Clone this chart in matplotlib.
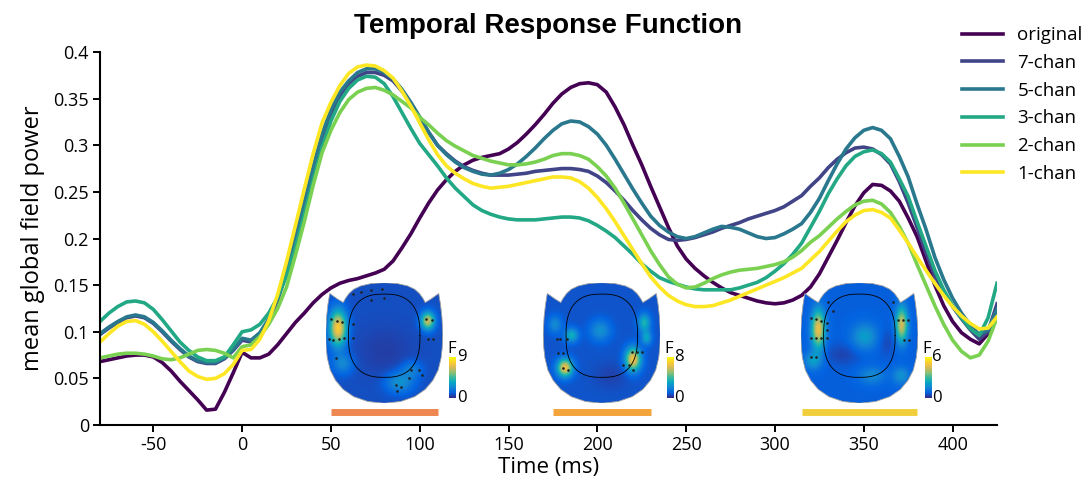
import numpy as np
import matplotlib.pyplot as plt
from matplotlib.colors import LinearSegmentedColormap
from matplotlib.path import Path
from matplotlib.patches import PathPatch
from matplotlib.ticker import FuncFormatter

plt.rcParams['font.family'] = ['Open Sans', 'DejaVu Sans']
plt.rcParams['axes.unicode_minus'] = False

# ---- TRF mean global field power, one curve per vocoder condition ----
time_ms = np.arange(-80, 426, 5)

original = [
    0.068, 0.070, 0.072, 0.074, 0.075, 0.075, 0.073, 0.067, 0.058, 0.047,
    0.037, 0.027, 0.016, 0.017, 0.035, 0.056, 0.078, 0.072, 0.072, 0.076,
    0.086, 0.098, 0.110, 0.120, 0.131, 0.140, 0.147, 0.152, 0.155, 0.157,
    0.160, 0.163, 0.167, 0.176, 0.190, 0.205, 0.222, 0.238, 0.252, 0.263,
    0.272, 0.279, 0.284, 0.287, 0.289, 0.291, 0.296, 0.303, 0.312, 0.322,
    0.333, 0.345, 0.355, 0.362, 0.366, 0.367, 0.365, 0.357, 0.341, 0.322,
    0.300, 0.279, 0.256, 0.234, 0.212, 0.192, 0.178, 0.168, 0.160, 0.153,
    0.147, 0.142, 0.139, 0.136, 0.133, 0.131, 0.130, 0.131, 0.134, 0.139,
    0.148, 0.162, 0.180, 0.198, 0.217, 0.235, 0.249, 0.258, 0.257, 0.251,
    0.240, 0.222, 0.202, 0.176, 0.150, 0.128, 0.111, 0.099, 0.092, 0.087,
    0.098, 0.120]

chan7 = [
    0.097, 0.104, 0.110, 0.115, 0.117, 0.115, 0.109, 0.100, 0.090, 0.081,
    0.073, 0.068, 0.066, 0.066, 0.071, 0.080, 0.091, 0.089, 0.097, 0.112,
    0.134, 0.163, 0.197, 0.235, 0.273, 0.308, 0.334, 0.353, 0.366, 0.374,
    0.378, 0.378, 0.375, 0.369, 0.358, 0.345, 0.330, 0.314, 0.300, 0.291,
    0.283, 0.277, 0.273, 0.270, 0.268, 0.268, 0.268, 0.269, 0.270, 0.272,
    0.273, 0.274, 0.275, 0.275, 0.274, 0.272, 0.267, 0.260, 0.251, 0.241,
    0.230, 0.220, 0.211, 0.204, 0.199, 0.198, 0.199, 0.201, 0.204, 0.207,
    0.211, 0.214, 0.217, 0.221, 0.224, 0.227, 0.230, 0.234, 0.240, 0.246,
    0.256, 0.265, 0.276, 0.285, 0.292, 0.297, 0.298, 0.296, 0.290, 0.280,
    0.261, 0.238, 0.212, 0.185, 0.160, 0.142, 0.127, 0.114, 0.102, 0.092,
    0.100, 0.130]

chan5 = [
    0.098, 0.105, 0.111, 0.116, 0.118, 0.116, 0.110, 0.101, 0.091, 0.082,
    0.074, 0.069, 0.067, 0.067, 0.072, 0.081, 0.093, 0.091, 0.099, 0.114,
    0.136, 0.166, 0.201, 0.239, 0.277, 0.312, 0.338, 0.357, 0.369, 0.378,
    0.382, 0.382, 0.378, 0.371, 0.360, 0.346, 0.330, 0.314, 0.300, 0.290,
    0.282, 0.276, 0.272, 0.269, 0.268, 0.270, 0.274, 0.280, 0.288, 0.297,
    0.307, 0.316, 0.323, 0.326, 0.325, 0.320, 0.312, 0.300, 0.285, 0.269,
    0.253, 0.238, 0.224, 0.214, 0.207, 0.202, 0.200, 0.202, 0.206, 0.210,
    0.213, 0.212, 0.210, 0.206, 0.202, 0.200, 0.201, 0.205, 0.210, 0.216,
    0.228, 0.243, 0.262, 0.280, 0.296, 0.308, 0.316, 0.319, 0.316, 0.307,
    0.288, 0.266, 0.237, 0.210, 0.180, 0.156, 0.136, 0.120, 0.107, 0.097,
    0.102, 0.124]

chan3 = [
    0.111, 0.120, 0.127, 0.132, 0.133, 0.131, 0.124, 0.113, 0.101, 0.089,
    0.080, 0.073, 0.069, 0.069, 0.073, 0.086, 0.100, 0.102, 0.108, 0.120,
    0.137, 0.160, 0.190, 0.226, 0.263, 0.298, 0.326, 0.347, 0.361, 0.370,
    0.374, 0.373, 0.366, 0.352, 0.335, 0.318, 0.302, 0.290, 0.278, 0.265,
    0.254, 0.245, 0.236, 0.230, 0.226, 0.223, 0.221, 0.220, 0.220, 0.220,
    0.221, 0.222, 0.223, 0.223, 0.222, 0.219, 0.214, 0.208, 0.201, 0.192,
    0.183, 0.173, 0.165, 0.158, 0.154, 0.151, 0.148, 0.146, 0.145, 0.145,
    0.145, 0.145, 0.147, 0.150, 0.153, 0.158, 0.165, 0.173, 0.183, 0.195,
    0.212, 0.229, 0.248, 0.264, 0.278, 0.288, 0.293, 0.295, 0.291, 0.282,
    0.264, 0.245, 0.218, 0.192, 0.166, 0.145, 0.128, 0.115, 0.103, 0.096,
    0.115, 0.152]

chan2 = [
    0.072, 0.074, 0.076, 0.077, 0.077, 0.076, 0.074, 0.071, 0.070, 0.072,
    0.076, 0.080, 0.081, 0.080, 0.077, 0.072, 0.084, 0.086, 0.095, 0.108,
    0.125, 0.148, 0.182, 0.218, 0.257, 0.292, 0.316, 0.335, 0.349, 0.357,
    0.361, 0.362, 0.359, 0.354, 0.347, 0.340, 0.330, 0.322, 0.313, 0.305,
    0.299, 0.294, 0.289, 0.286, 0.283, 0.281, 0.279, 0.279, 0.280, 0.282,
    0.285, 0.289, 0.291, 0.291, 0.289, 0.285, 0.277, 0.267, 0.254, 0.238,
    0.221, 0.204, 0.187, 0.172, 0.159, 0.151, 0.147, 0.148, 0.152, 0.157,
    0.161, 0.164, 0.166, 0.167, 0.168, 0.170, 0.172, 0.175, 0.180, 0.187,
    0.196, 0.203, 0.212, 0.221, 0.229, 0.236, 0.240, 0.241, 0.237, 0.228,
    0.213, 0.195, 0.172, 0.150, 0.128, 0.108, 0.091, 0.079, 0.072, 0.075,
    0.090, 0.115]

chan1 = [
    0.089, 0.098, 0.106, 0.111, 0.112, 0.108, 0.100, 0.090, 0.079, 0.068,
    0.058, 0.052, 0.049, 0.050, 0.055, 0.065, 0.080, 0.081, 0.092, 0.112,
    0.140, 0.175, 0.214, 0.253, 0.291, 0.324, 0.346, 0.364, 0.377, 0.384,
    0.386, 0.385, 0.380, 0.372, 0.358, 0.342, 0.324, 0.306, 0.290, 0.278,
    0.270, 0.264, 0.259, 0.256, 0.254, 0.255, 0.256, 0.258, 0.260, 0.262,
    0.264, 0.266, 0.266, 0.265, 0.261, 0.254, 0.244, 0.232, 0.218, 0.203,
    0.188, 0.173, 0.159, 0.148, 0.139, 0.133, 0.129, 0.127, 0.127, 0.128,
    0.131, 0.134, 0.138, 0.142, 0.146, 0.150, 0.154, 0.158, 0.163, 0.168,
    0.177, 0.186, 0.197, 0.208, 0.218, 0.225, 0.230, 0.231, 0.228, 0.222,
    0.209, 0.195, 0.180, 0.166, 0.152, 0.139, 0.127, 0.117, 0.109, 0.103,
    0.104, 0.116]

series = [original, chan7, chan5, chan3, chan2, chan1]
series_names = ['original', '7-chan', '5-chan', '3-chan', '2-chan', '1-chan']
series_colors = ['#440154', '#414487', '#2a788e', '#22a884', '#7ad151', '#fde725']

# time windows of the F-maps
win_start = [50, 175, 315]
win_end = [110, 230, 380]
win_colors = ['#ee8752', '#f3a43b', '#f1cf3c']
f_max = [9, 8, 6]

# scalp-map hotspots per window: (u, v, amplitude, width_u, width_v)
spots = [
    [(-0.80, 0.24, 0.78, 0.10, 0.20), (0.73, 0.36, 0.64, 0.08, 0.10),
     (0.25, -0.66, 0.22, 0.16, 0.12), (-0.72, -0.35, 0.18, 0.12, 0.12),
     (0.45, -0.45, 0.15, 0.12, 0.10), (0.0, -0.15, -0.04, 0.35, 0.30)],
    [(-0.63, -0.42, 0.72, 0.09, 0.10), (0.53, -0.28, 0.74, 0.09, 0.13),
     (-0.52, 0.12, 0.32, 0.08, 0.08), (0.72, 0.33, 0.35, 0.07, 0.10),
     (0.76, 0.08, 0.28, 0.06, 0.08), (-0.03, 0.20, 0.20, 0.12, 0.12),
     (-0.80, 0.30, 0.18, 0.08, 0.10), (0.15, -0.55, -0.04, 0.20, 0.15)],
    [(-0.71, 0.22, 0.68, 0.08, 0.22), (0.71, 0.30, 0.62, 0.07, 0.20),
     (0.08, 0.10, 0.22, 0.15, 0.15), (-0.80, -0.30, 0.22, 0.10, 0.10),
     (0.70, -0.55, 0.18, 0.10, 0.10), (0.20, -0.55, 0.15, 0.15, 0.10),
     (-0.30, -0.20, -0.06, 0.20, 0.12), (0.45, 0.0, -0.05, 0.10, 0.15)],
]
spot_base = [0.085, 0.095, 0.12]

sensor_u = [
    [-0.915, -0.80, -0.715, -0.54, -0.94, -0.88, -0.77, -0.69, -0.54, -0.54, -0.40,
     -0.23, -0.03, -0.23, 0.0, 0.71, 0.81, 0.74, 0.83, -0.83, 0.45, 0.60, 0.65,
     0.20, 0.28, 0.225, 0.42],
    [-0.77, -0.72, -0.60, -0.74, -0.66, -0.66, -0.58, 0.51, 0.60, 0.68, 0.37, 0.46, 0.54],
    [-0.83, -0.74, -0.66, -0.83, -0.74, -0.66, -0.55, -0.83, -0.74, -0.54, -0.45,
     -0.55, -0.55, 0.57, 0.66, 0.74, 0.83, 0.77, 0.85],
]
sensor_v = [
    [0.395, 0.367, 0.35, 0.31, 0.06, 0.05, 0.06, 0.087, 0.087, 0.815, 0.84,
     0.87, 0.89, 0.72, 0.74, 0.395, 0.38, 0.06, 0.06, -0.25, -0.445, -0.445, -0.53,
     -0.70, -0.73, -0.79, -0.585],
    [0.06, 0.06, 0.06, -0.165, -0.165, -0.42, -0.445, -0.155, -0.155, -0.155, -0.36, -0.36, -0.44],
    [0.42, 0.40, 0.37, 0.075, 0.075, 0.075, 0.075, -0.23, -0.23, 0.675, 0.53,
     0.33, 0.21, 0.675, 0.38, 0.38, 0.38, 0.05, 0.05],
]

parula = LinearSegmentedColormap.from_list(
    'parula', ['#352a87', '#0363e1', '#1485d4', '#06a7c6', '#38b99e',
               '#92bf73', '#d9ba56', '#fcce2e', '#f9fb0e'])

# flattened helmet outline (unit box), right half then mirrored
right_half = [(0.0, 1.0), (0.22, 0.985), (0.40, 0.945), (0.52, 0.89), (0.60, 0.82),
              (0.66, 0.74), (0.70, 0.67), (0.80, 0.73), (0.93, 0.82),
              (0.96, 0.64), (0.985, 0.42), (1.0, 0.15), (0.99, -0.08), (0.97, -0.25),
              (0.92, -0.45), (0.83, -0.62), (0.70, -0.77), (0.52, -0.89),
              (0.28, -0.97), (0.0, -1.0)]
left_half = [(-x, y) for x, y in reversed(right_half[1:-1])]
head_path = Path(right_half + left_half + [right_half[0]], closed=True)

theta = np.linspace(0, 2 * np.pi, 200)
inner_u = 0.61 * np.sign(np.cos(theta)) * np.abs(np.cos(theta)) ** (2 / 2.6)
inner_v = 0.12 + 0.69 * np.sign(np.sin(theta)) * np.abs(np.sin(theta)) ** (2 / 2.6)

gu, gv = np.meshgrid(np.linspace(-1, 1, 200), np.linspace(-1, 1, 200))


def scalp_field(hotspots, base):
    z = np.full_like(gu, base)
    for u0, v0, amp, su, sv in hotspots:
        z += amp * np.exp(-0.5 * ((gu - u0) / su) ** 2 - 0.5 * ((gv - v0) / sv) ** 2)
    return z


fig = plt.figure(figsize=(10.92, 4.93), dpi=100)
ax = fig.add_axes([0.0916, 0.1379, 0.8214, 0.7566])

lines = []
for vals, name, col in zip(series, series_names, series_colors):
    ln, = ax.plot(time_ms, vals, color=col, lw=2.6, label=name)
    lines.append(ln)

ax.set_xlim(-80, 425)
ax.set_ylim(0, 0.4)
ax.set_xticks(np.arange(-50, 401, 50))
ax.set_yticks(np.arange(0, 0.401, 0.05))
ax.yaxis.set_major_formatter(FuncFormatter(lambda v, p: '%g' % round(v, 2)))
for s in ['top', 'right']:
    ax.spines[s].set_visible(False)
for s in ['left', 'bottom']:
    ax.spines[s].set_linewidth(1.5)
ax.tick_params(direction='out', length=5, width=1.4, labelsize=13, pad=3)
ax.set_xlabel('Time (ms)', fontsize=16, labelpad=2)
ax.set_ylabel('mean global field power', fontsize=17, labelpad=6)
ax.set_title('Temporal Response Function', fontsize=20, fontweight='bold',
             family='Liberation Sans', pad=14)

# time windows with their scalp maps
for k in range(3):
    ax.plot([win_start[k], win_end[k]], [0.0143, 0.0143], color=win_colors[k],
            lw=5, solid_capstyle='butt')
    mid = (win_start[k] + win_end[k]) / 2
    tax = ax.inset_axes([mid - 33, 0.0233, 66, 0.1294], transform=ax.transData)
    im = tax.imshow(scalp_field(spots[k], spot_base[k]), extent=(-1, 1, -1, 1),
                    origin='lower', cmap=parula, vmin=0, vmax=1, aspect='auto',
                    interpolation='bilinear')
    outline = PathPatch(head_path, transform=tax.transData, fc='none',
                        ec='#a0a0a0', lw=0.6)
    tax.add_patch(outline)
    im.set_clip_path(outline)
    tax.plot(inner_u, inner_v, color='k', lw=0.6)
    tax.plot(sensor_u[k], sensor_v[k], '.', color='#202020', ms=1.7)
    tax.set_xlim(-1, 1)
    tax.set_ylim(-1, 1)
    tax.axis('off')

    cb_x = mid + 33 + 3.7
    cax = ax.inset_axes([cb_x, 0.0293, 3.5, 0.0433], transform=ax.transData)
    cax.imshow(np.linspace(0, 1, 100)[:, None], cmap=parula, aspect='auto',
               origin='lower', extent=(0, 1, 0, 1))
    cax.axis('off')
    ax.text(cb_x - 1.2, 0.0769, 'F', ha='left', va='baseline', fontsize=12)
    ax.text(cb_x + 4.2, 0.0726, str(f_max[k]), ha='left', va='center', fontsize=12)
    ax.text(cb_x + 4.2, 0.0293, '0', ha='left', va='center', fontsize=12)

fig.legend(handles=lines, loc='upper left', bbox_to_anchor=(0.881, 0.947),
           frameon=False, fontsize=13.5, handlelength=2.2, handletextpad=0.75,
           labelspacing=0.52, borderpad=0, borderaxespad=0)

fig.savefig('out.png', dpi=100)
